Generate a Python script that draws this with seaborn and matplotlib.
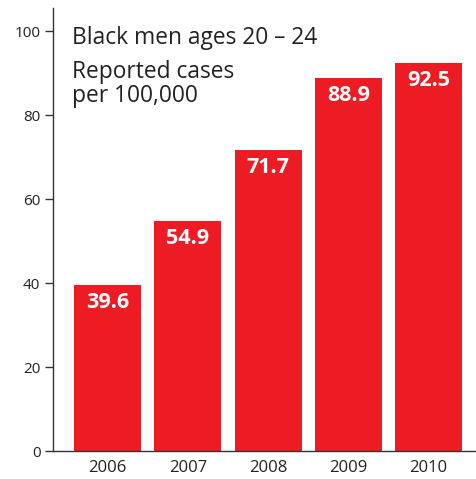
import matplotlib
matplotlib.use("Agg")
import matplotlib.pyplot as plt
import seaborn as sns
import pandas as pd

years = ["2006", "2007", "2008", "2009", "2010"]
rates = [39.6, 54.9, 71.7, 88.9, 92.5]
title_lines = ["Black men ages 20 \u2013 24", "Reported cases\nper 100,000"]


def main():
    sns.set_style("ticks")
    plt.rcParams['font.family'] = ['Open Sans', 'DejaVu Sans']

    df = pd.DataFrame({"year": years, "rate": rates})

    fig = plt.figure(figsize=(4.77, 4.79), dpi=100)
    ax = fig.add_axes([0.111, 0.058, 0.885, 0.925])

    sns.barplot(data=df, x="year", y="rate", color="#ED1C24",
                saturation=1, width=0.835, linewidth=0, ax=ax)

    for i, v in enumerate(rates):
        ax.annotate(f"{v}", (i, v), xytext=(0, -5), textcoords="offset points",
                    ha="center", va="top", color="white",
                    fontsize=15.5, fontweight="bold")

    ax.set_ylim(0, 105.5)
    ax.set_xlim(-0.68, 4.58)
    ax.set_yticks([0, 20, 40, 60, 80, 100])
    ax.set_xlabel("")
    ax.set_ylabel("")
    sns.despine(ax=ax)
    for s in ["left", "bottom"]:
        ax.spines[s].set_color("#333333")
        ax.spines[s].set_linewidth(1.0)
    ax.tick_params(axis="y", length=6, width=1, color="#333333",
                   labelsize=11, labelcolor="#222222", pad=3)
    ax.tick_params(axis="x", length=0, labelsize=12, labelcolor="#222222", pad=6)

    ax.text(0.045, 0.932, title_lines[0], transform=ax.transAxes,
            fontsize=16.4, color="#222222", va="center", ha="left")
    ax.text(0.045, 0.829, title_lines[1], transform=ax.transAxes,
            fontsize=16.4, color="#222222", va="center", ha="left",
            linespacing=1.0)

    fig.savefig("out.png", dpi=100)
    plt.close(fig)


if __name__ == "__main__":
    main()
